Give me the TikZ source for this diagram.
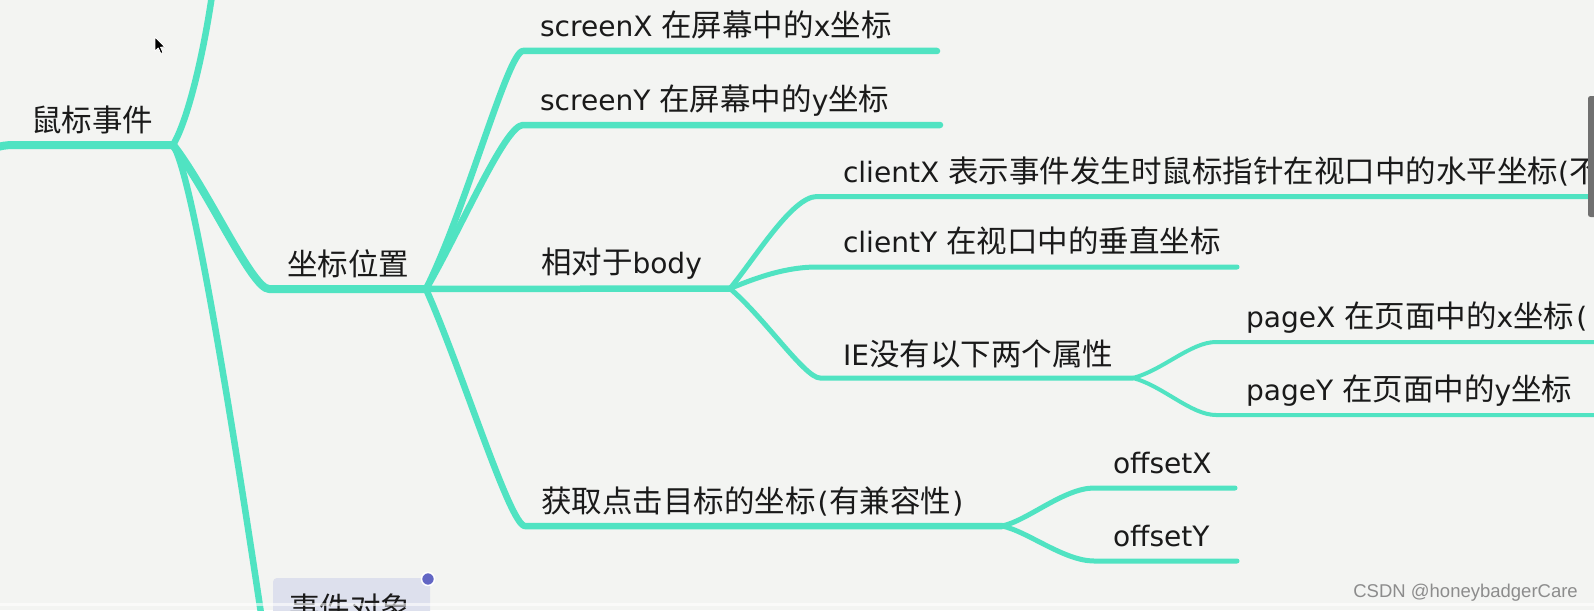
\documentclass[tikz,border=0pt]{standalone}
\usepackage{fontspec}
\setmainfont{Noto Sans CJK SC}
\newfontfamily\lt[Scale=0.92]{DejaVu Sans}
\newfontfamily\wmfont{Liberation Sans}
\newcommand\lpar{\kern2pt{\lt(}\kern1pt}
\newcommand\rpar{\kern1pt{\lt)}}
\definecolor{branch}{HTML}{50E3C2}
\definecolor{bgc}{RGB}{243,244,242}
\definecolor{ink}{RGB}{26,26,26}
\definecolor{selc}{RGB}{221,224,237}
\definecolor{dotc}{RGB}{98,102,196}
\definecolor{wmc}{RGB}{140,140,140}
\definecolor{barc}{RGB}{112,112,112}
\begin{document}
\begin{tikzpicture}[x=1pt,y=-1pt,
  topic/.style={anchor=base west, inner sep=0pt, outer sep=0pt, text=ink, font=\fontsize{30.5}{37}\selectfont},
  br/.style={draw=branch, line cap=round, line join=round},
  wa/.style={br, line width=8pt},
  wb/.style={br, line width=6.5pt},
  wc/.style={br, line width=5pt},
  wd/.style={br, line width=4pt}]
\useasboundingbox (0,0) rectangle (1594,610);
\fill[bgc] (0,0) rectangle (1594,610);
\begin{scope}
\clip (0,0) rectangle (1594,610);
% junctions and line ends
\coordinate (in0) at (-30,200);
\coordinate (s0) at (14,145);
\coordinate (j0) at (173,145);
\coordinate (up) at (214,-20);
\coordinate (s1) at (269,289);
\coordinate (j1) at (426,289);
\coordinate (evtin) at (262,620);
\coordinate (sx1) at (523,51);  \coordinate (sx2) at (937,51);
\coordinate (sy1) at (523,125); \coordinate (sy2) at (940,125);
\coordinate (j2) at (730,288.5);
\coordinate (g1) at (525,526);  \coordinate (j3) at (1002,526);
\coordinate (cx1) at (817,196.5); \coordinate (cx2) at (1610,196.5);
\coordinate (cy1) at (817,267);   \coordinate (cy2) at (1237,267);
\coordinate (ie1) at (820,378);   \coordinate (j4) at (1133,378);
\coordinate (px1) at (1216,342);  \coordinate (px2) at (1610,342);
\coordinate (py1) at (1216,415);  \coordinate (py2) at (1610,415);
\coordinate (ox1) at (1094,488);  \coordinate (ox2) at (1235,488);
\coordinate (oy1) at (1094,561);  \coordinate (oy2) at (1237,561);
% selected topic box
\fill[selc, rounded corners=4pt] (273,578) rectangle (430,660);
% connectors
\draw[wa] (in0) .. controls +(4,-40) and +(-30,0) .. (s0) -- (j0);
\draw[wb] (j0) .. controls +(18,-30) and +(-6,50) .. (up);
\draw[wb] (j0) .. controls +(19,27) and +(-30,-200) .. (evtin);
\draw[wa] (j0) .. controls +(35,45) and +(-17,0) .. (s1) -- (j1);
\draw[wb] (j1) .. controls +(40,-80) and +(-15,0) .. (sx1) -- (sx2);
\draw[wb] (j1) .. controls +(35,-60) and +(-18,0) .. (sy1) -- (sy2);
\draw[wb] (j1) -- (j2);
\draw[wb] (j1) .. controls +(36,81) and +(-15,0) .. (g1) -- (j3);
\draw[wc] (j2) .. controls +(25,-30) and +(-25,0) .. (cx1) -- (cx2);
\draw[wc] (j2) .. controls +(20,-8) and +(-35,0) .. (cy1) -- (cy2);
\draw[wc] (j2) .. controls +(35,30) and +(-15,0) .. (ie1) -- (j4);
\draw[wd] (j4) .. controls +(30,-8) and +(-25,0) .. (px1) -- (px2);
\draw[wd] (j4) .. controls +(30,8) and +(-25,0) .. (py1) -- (py2);
\draw[wc] (j3) .. controls +(25,-5) and +(-30,0) .. (ox1) -- (ox2);
\draw[wc] (j3) .. controls +(25,5) and +(-30,0) .. (oy1) -- (oy2);
% texts
\node[topic] (mouse) at (31,131) {鼠标事件};
\node[topic] (pos) at (287,275) {坐标位置};
\node[topic] (sx) at (540,37) {{\lt screenX }在屏幕中的{\lt x}坐标};
\node[topic] (sy) at (540,110) {{\lt screenY }在屏幕中的{\lt y}坐标};
\node[topic] (rel) at (541,273) {相对于{\lt body}};
\node[topic] (cx) at (843,182) {{\lt clientX }表示事件发生时鼠标指针在视口中的水平坐标{\lt(}不};
\node[topic] (cy) at (843,252) {{\lt clientY }在视口中的垂直坐标};
\node[topic] (ie) at (843,365) {{\lt IE}没有以下两个属性};
\node[topic] (px) at (1246,327) {{\lt pageX }在页面中的{\lt x}坐标\lpar};
\node[topic] (py) at (1246,400) {{\lt pageY }在页面中的{\lt y}坐标};
\node[topic] (get) at (541,512) {获取点击目标的坐标\lpar 有兼容性\rpar};
\node[topic] (ox) at (1113,473) {\lt offsetX};
\node[topic] (oy) at (1113,546) {\lt offsetY};
\node[topic] (evt) at (289,619) {事件对象};
\filldraw[fill=dotc, draw=white, line width=1.5pt] (428,579) circle (6.5pt);
% mouse cursor
\filldraw[fill=black, draw=white, line width=0.8pt, line join=round] (155,37) -- (155,51) -- (158.3,48) -- (160.8,53.5) -- (163,52.5) -- (160.5,47.2) -- (165,47) -- cycle;
% scrollbar at the right edge
\fill[barc, rounded corners=2.5pt] (1588,96) rectangle (1600,217);
% bottom edge strip
\fill[white, opacity=0.6] (0,603) rectangle (1594,606);
\end{scope}
\node[anchor=base east, inner sep=0pt, font=\wmfont\fontsize{18.5}{20}\selectfont, text=wmc] (wm) at (1578,597) {CSDN @honeybadgerCare};
\end{tikzpicture}
\end{document}
